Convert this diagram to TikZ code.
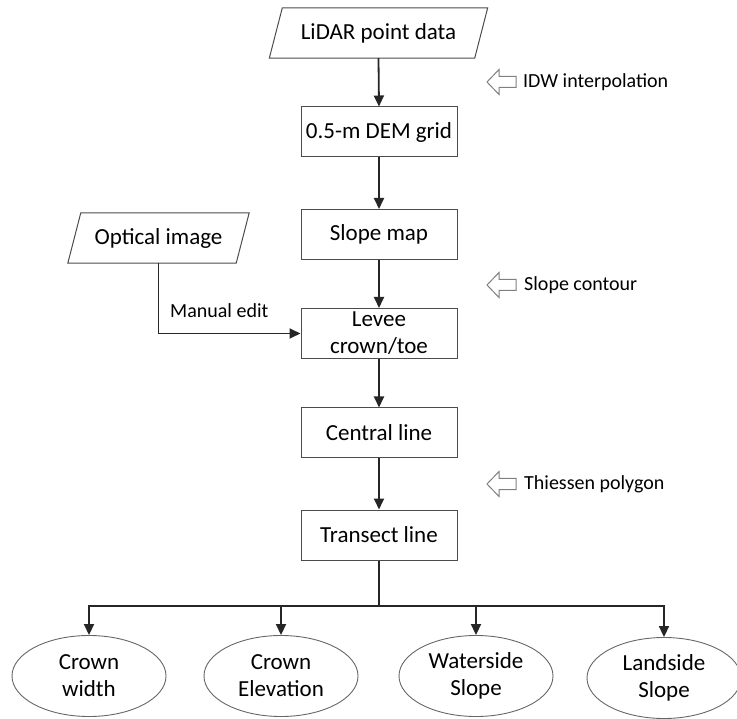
\documentclass[tikz,border=0pt]{standalone}
\usepackage{fontspec}
\setmainfont{Carlito}
\usetikzlibrary{arrows.meta,calc,shapes.geometric}
\tikzset{
  hollowarrow/.pic={
    \draw[draw=black!50,line width=1pt,fill=white,line join=miter]
      (0,0) -- (12,-12.5) -- (12,-5.5) -- (29,-5.5) -- (29,5.5) -- (12,5.5) -- (12,12.5) -- cycle;
  }
}
\begin{document}
\begin{tikzpicture}[x=1pt,y=-1pt,
  boxtext/.style={font=\fontsize{23}{27}\selectfont},
  box/.style={boxtext,draw=black!70,line width=1pt,minimum width=156pt,minimum height=50pt,inner sep=0pt,align=center},
  io/.style={boxtext,minimum height=50pt,inner sep=0pt},
  para/.style={draw=black!70,line width=1pt},
  oval/.style={boxtext,ellipse,draw=black!60,line width=0.9pt,minimum width=154pt,minimum height=81pt,inner sep=0pt,align=center},
  flow/.style={draw=black!85,line width=1.8pt,-{Triangle[length=11pt,width=10pt]}},
  plainline/.style={draw=black!85,line width=1.8pt},
  side/.style={anchor=west,font=\fontsize{20}{24}\selectfont,inner sep=0pt}
]
\useasboundingbox (0,0) rectangle (737,719);

% input parallelograms
\node[io,minimum width=205pt] (lidar) at (378.5,33) {LiDAR point data};
\draw[para] ([xshift=-6.5pt]lidar.south west) -- ([xshift=6.5pt]lidar.north west)
  -- ([xshift=6.5pt]lidar.north east) -- ([xshift=-6.5pt]lidar.south east) -- cycle;

\node[io,minimum width=168pt] (optical) at (158.5,238) {Optical image};
\draw[para] ([xshift=-6.5pt]optical.south west) -- ([xshift=6.5pt]optical.north west)
  -- ([xshift=6.5pt]optical.north east) -- ([xshift=-6.5pt]optical.south east) -- cycle;

% process boxes
\node[box] (dem) at (379,132) {0.5-m DEM grid};
\node[box] (slope) at (379,234.5) {Slope map};
\node[box] (levee) at (379,333.5) {Levee\\crown/toe};
\node[box] (central) at (379,433) {Central line};
\node[box] (transect) at (379,535) {Transect line};

% outputs
\node[oval] (o1) at (89,676) {Crown\\width};
\node[oval] (o2) at (281,676) {Crown\\Elevation};
\node[oval] (o3) at (476,676) {Waterside\\Slope};
\node[oval] (o4) at (664,678) {Landside\\Slope};

% connectors
\draw[flow] (lidar.south) -- (dem.north);
\draw[flow] (dem.south) -- (slope.north);
\draw[flow] (slope.south) -- (levee.north);
\draw[flow] (levee.south) -- (central.north);
\draw[flow] (central.south) -- (transect.north);
\draw[flow] (optical.south) |- (levee.west);

\coordinate (split) at (379,606);
\draw[plainline] (transect.south) -- (split);
\draw[flow] (split) -| (o1.north);
\draw[flow] (split) -| (o2.north);
\draw[flow] (split) -| (o3.north);
\draw[flow] (split) -| (o4.north);

% side annotations
\node[side] (manual) at (170,311) {Manual edit};
\pic at (487,82) {hollowarrow};
\node[side] (idw) at (523,82) {IDW interpolation};
\pic at (487,285) {hollowarrow};
\node[side] (contour) at (524,285) {Slope contour};
\pic at (487,484) {hollowarrow};
\node[side] (thiessen) at (524,484) {Thiessen polygon};
\end{tikzpicture}
\end{document}
